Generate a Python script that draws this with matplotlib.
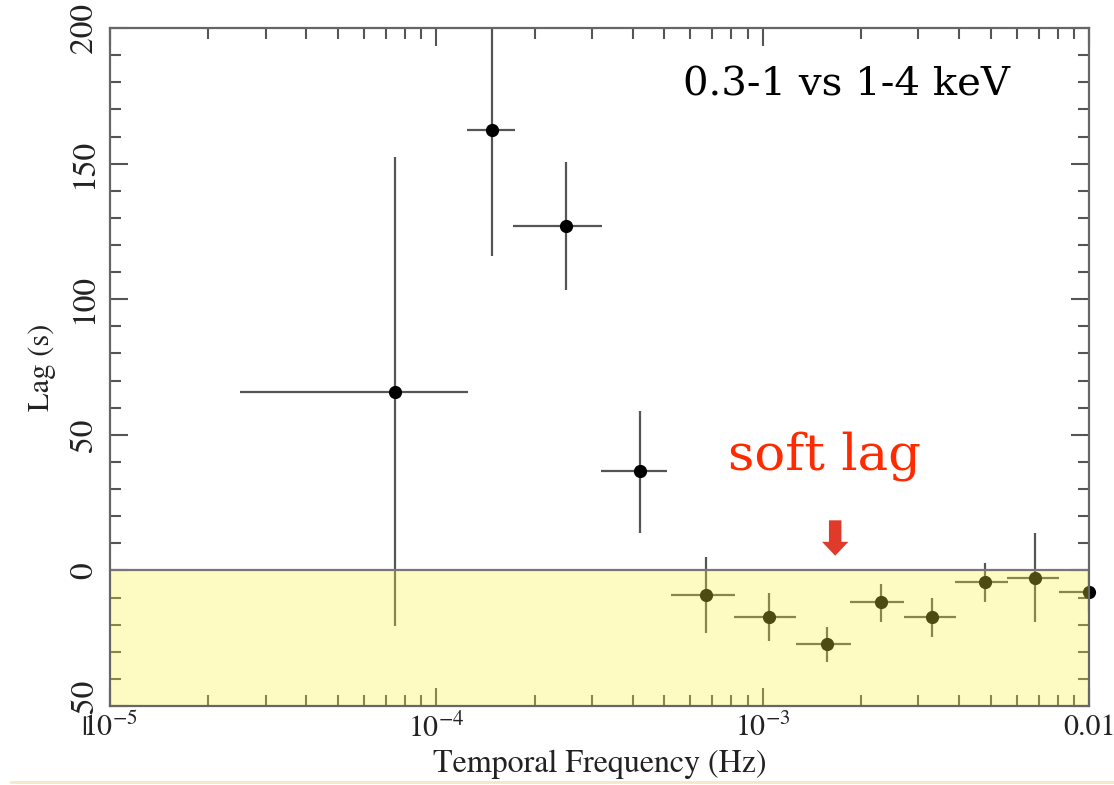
import numpy as np
import matplotlib
matplotlib.use("Agg")
import matplotlib.pyplot as plt
from matplotlib.lines import Line2D
from matplotlib.ticker import LogLocator, MultipleLocator, FixedFormatter, FixedLocator

plt.rcParams["font.family"] = ["STIXGeneral", "DejaVu Serif"]
plt.rcParams["mathtext.fontset"] = "stix"

# -------- DATA --------
freq = [7.46e-5, 1.48e-4, 2.50e-4, 4.20e-4, 6.71e-4, 1.047e-3, 1.572e-3,
        2.295e-3, 3.30e-3, 4.78e-3, 6.84e-3, 1.0e-2]
freq_lo = [2.50e-5, 1.24e-4, 1.72e-4, 3.20e-4, 5.24e-4, 8.19e-4, 1.26e-3,
           1.855e-3, 2.70e-3, 3.88e-3, 5.62e-3, 8.11e-3]
freq_hi = [1.25e-4, 1.74e-4, 3.22e-4, 5.09e-4, 8.22e-4, 1.265e-3, 1.866e-3,
           2.716e-3, 3.90e-3, 5.66e-3, 8.11e-3, 1.23e-2]
lag = [65.8, 162.4, 127.0, 36.7, -9.1, -17.1, -27.3, -11.8, -17.3, -4.4, -2.7, -7.8]
lag_lo = [-20.5, 116.0, 103.4, 13.8, -23.0, -26.0, -33.6, -18.9, -24.4, -11.5, -18.9, -15.5]
lag_hi = [152.4, 215.0, 150.6, 58.8, 4.9, -8.2, -20.7, -4.9, -10.1, 2.8, 13.8, 0.0]

xticks = [1e-5, 1e-4, 1e-3, 1e-2]
xticklabels = [r"$10^{-5}$", r"$10^{-4}$", r"$10^{-3}$", "0.01"]
yticks = [-50, 0, 50, 100, 150, 200]

freq = np.array(freq)
lag = np.array(lag)
xerr = [freq - np.array(freq_lo), np.array(freq_hi) - freq]
yerr = [lag - np.array(lag_lo), np.array(lag_hi) - lag]

fig = plt.figure(figsize=(11.14, 7.85), dpi=100)
ax = fig.add_axes([0.0987, 0.1006, 0.879, 0.8637])

ax.errorbar(freq, lag, xerr=xerr, yerr=yerr, fmt="none",
            ecolor="#555555", elinewidth=1.6, capsize=0, zorder=2)
ax.plot(freq, lag, "o", color="black", markersize=8.5, clip_on=False, zorder=3)

# yellow "soft lag" band drawn over the points
ax.axhspan(-50, 0, color="#FCF53A", alpha=0.31, lw=0, zorder=4)
ax.axhline(0, color="#777777", lw=1.6, zorder=5)

ax.set_xscale("log")
ax.set_xlim(1e-5, 1e-2)
ax.set_ylim(-50, 200)

ax.xaxis.set_major_locator(FixedLocator(xticks))
ax.xaxis.set_major_formatter(FixedFormatter(xticklabels))
ax.xaxis.set_minor_locator(LogLocator(base=10, subs=np.arange(2, 10)))
ax.xaxis.set_minor_formatter(FixedFormatter([]))
ax.yaxis.set_major_locator(FixedLocator(yticks))
ax.yaxis.set_minor_locator(MultipleLocator(10))

ax.tick_params(which="both", direction="in", top=True, right=True,
               color="#555555", width=1.5)
ax.tick_params(which="major", length=13)
ax.tick_params(which="minor", length=8)
ax.tick_params(axis="x", labelsize=21.5, pad=6, colors="#555555", labelcolor="#222222")
ax.tick_params(axis="y", labelsize=24, pad=8, colors="#555555", labelcolor="#222222")
for lbl in ax.get_yticklabels():
    lbl.set_rotation(90)
    lbl.set_va("center")

for s in ax.spines.values():
    s.set_color("#666666")
    s.set_linewidth(1.6)
    s.set_zorder(6)

ax.set_xlabel("Temporal Frequency (Hz)", fontsize=23, color="#222222", labelpad=4)
ax.set_ylabel("Lag (s)", fontsize=22, color="#222222", labelpad=10)

ax.text(0.752, 0.916, "0.3-1 vs 1-4 keV", transform=ax.transAxes,
        fontsize=29, family="DejaVu Serif", ha="center", va="center", color="black")
ax.text(0.730, 0.368, "soft lag", transform=ax.transAxes,
        fontsize=37, family="DejaVu Serif", ha="center", va="center", color="#FF2A00")
ax.annotate("", xy=(1.667e-3, 4.4), xytext=(1.667e-3, 19.5),
            arrowprops=dict(arrowstyle="simple,head_width=1.9,head_length=1.0,tail_width=0.9",
                            color="#E03A2A", lw=0), zorder=7)

# faint footer rule under the plot
fig.add_artist(Line2D([0.01, 1.0], [0.004, 0.004], color="#F3E8C8", lw=2))

fig.savefig("out.png", dpi=100)
